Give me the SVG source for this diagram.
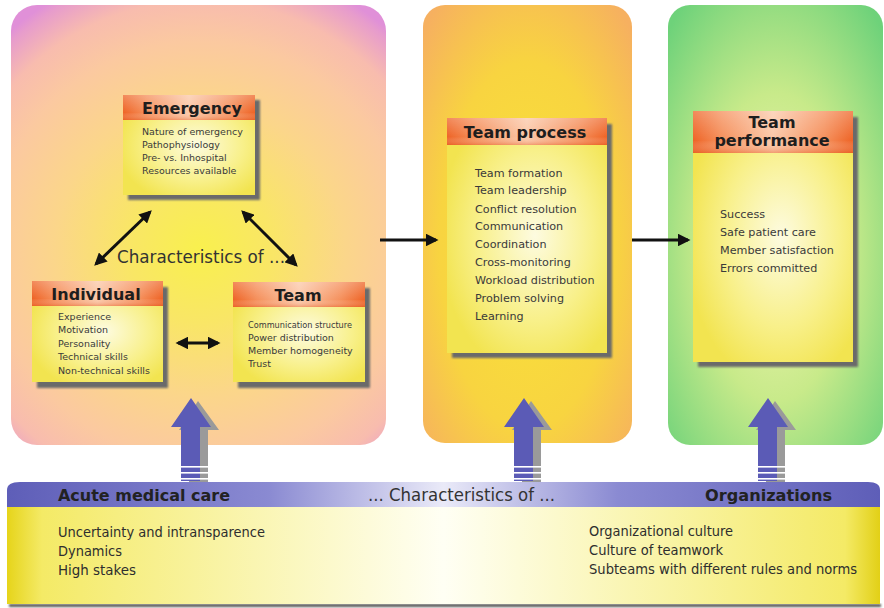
<svg xmlns="http://www.w3.org/2000/svg" width="884" height="608" viewBox="0 0 884 608">
<defs>
<style>
.hdr{font-family:"DejaVu Sans",Verdana,sans-serif;font-weight:bold;font-size:16px;fill:#1e1e1e;text-anchor:middle}
.item{font-family:"DejaVu Sans",Verdana,sans-serif;font-size:9.5px;fill:#3a3a3a}
.item2{font-family:"DejaVu Sans",Verdana,sans-serif;font-size:11.2px;fill:#3a3a3a}
.band{font-family:"DejaVu Sans Condensed","DejaVu Sans",sans-serif;font-size:14px;fill:#2e2e2e}
.bandh{font-family:"DejaVu Sans",Verdana,sans-serif;font-weight:bold;font-size:16px;fill:#222}
.char{font-family:"DejaVu Sans Condensed","DejaVu Sans",sans-serif;font-size:17px;fill:#333}
.conn{stroke:#111;stroke-width:3;fill:none}
.shadow{fill:#6a6a6a;filter:url(#blur)}
</style>
<filter id="blur" x="-10%" y="-10%" width="120%" height="120%"><feGaussianBlur stdDeviation="1.2"/></filter>
<radialGradient id="gLeft" gradientUnits="userSpaceOnUse" cx="200" cy="250" r="290">
<stop offset="0" stop-color="#f9f04e"/>
<stop offset="0.25" stop-color="#f9e666"/>
<stop offset="0.5" stop-color="#fbd68a"/>
<stop offset="0.72" stop-color="#fbc9a0"/>
<stop offset="0.86" stop-color="#f8bcae"/>
<stop offset="0.97" stop-color="#e79ccc"/>
<stop offset="1" stop-color="#e090d8"/>
</radialGradient>
<radialGradient id="gMid" cx="0.5" cy="0.55" r="0.7">
<stop offset="0" stop-color="#f9e23a"/>
<stop offset="0.6" stop-color="#f8d440"/>
<stop offset="1" stop-color="#f6b060"/>
</radialGradient>
<radialGradient id="gRight" cx="0.5" cy="0.55" r="0.7">
<stop offset="0" stop-color="#f2f4b4"/>
<stop offset="0.5" stop-color="#c8ea8a"/>
<stop offset="1" stop-color="#6ed27a"/>
</radialGradient>
<linearGradient id="gHead" x1="0" y1="0" x2="1" y2="0">
<stop offset="0" stop-color="#ee6426"/>
<stop offset="0.18" stop-color="#f5905c"/>
<stop offset="0.5" stop-color="#fbc8a8"/>
<stop offset="0.82" stop-color="#f5905c"/>
<stop offset="1" stop-color="#ee6426"/>
</linearGradient>
<linearGradient id="gHeadV" x1="0" y1="0" x2="0" y2="1">
<stop offset="0" stop-color="#ffffff" stop-opacity="0.25"/>
<stop offset="0.7" stop-color="#ffffff" stop-opacity="0"/>
<stop offset="1" stop-color="#e45a20" stop-opacity="0.4"/>
</linearGradient>
<radialGradient id="gBody" cx="0.55" cy="0.5" r="0.6">
<stop offset="0" stop-color="#fdfbe0"/>
<stop offset="0.6" stop-color="#f8f08a"/>
<stop offset="1" stop-color="#f2e450"/>
</radialGradient>
<linearGradient id="gBandTop" x1="0" y1="0" x2="1" y2="0">
<stop offset="0" stop-color="#5e5eb8"/>
<stop offset="0.3" stop-color="#8a8ad2"/>
<stop offset="0.5" stop-color="#eaeaf8"/>
<stop offset="0.7" stop-color="#8a8ad2"/>
<stop offset="1" stop-color="#5e5eb8"/>
</linearGradient>
<linearGradient id="gBandBody" x1="0" y1="0" x2="1" y2="0">
<stop offset="0" stop-color="#e6d41a"/>
<stop offset="0.04" stop-color="#f4ea66"/>
<stop offset="0.5" stop-color="#fffff4"/>
<stop offset="0.96" stop-color="#f4ea66"/>
<stop offset="1" stop-color="#e2d016"/>
</linearGradient>
<marker id="ah" viewBox="0 0 10 10" refX="8" refY="5" markerWidth="4.2" markerHeight="4.2" orient="auto-start-reverse" markerUnits="strokeWidth">
<path d="M0,0 L10,5 L0,10 Z" fill="#111"/>
</marker>
</defs>

<rect width="884" height="608" fill="#ffffff"/>

<g id="panel-left"><rect x="11" y="5" width="375" height="440" rx="26" fill="url(#gLeft)"/></g>
<g id="panel-middle"><rect x="423" y="5" width="209" height="438" rx="22" fill="url(#gMid)"/></g>
<g id="panel-right"><rect x="668" y="5" width="215" height="440" rx="22" fill="url(#gRight)"/></g>

<text class="char" x="117" y="263" textLength="168" lengthAdjust="spacingAndGlyphs">Characteristics of ...</text>

<g id="connectors">
<line class="conn" x1="150" y1="212" x2="96" y2="264" marker-start="url(#ah)" marker-end="url(#ah)"/>
<line class="conn" x1="243" y1="212" x2="296" y2="265" marker-start="url(#ah)" marker-end="url(#ah)"/>
<line class="conn" x1="178" y1="343" x2="218" y2="343" marker-start="url(#ah)" marker-end="url(#ah)"/>
<line class="conn" x1="380" y1="240" x2="436" y2="240" marker-end="url(#ah)"/>
<line class="conn" x1="632" y1="240" x2="688" y2="240" marker-end="url(#ah)"/>
</g>

<g id="node-emergency">
<rect class="shadow" x="128" y="100" width="132" height="100"/>
<rect x="123" y="95" width="132" height="100" fill="url(#gBody)"/>
<rect x="123" y="95" width="132" height="25" fill="url(#gHead)"/>
<rect x="123" y="95" width="132" height="25" fill="url(#gHeadV)"/>
<text class="hdr" x="192" y="114">Emergency</text>
<text class="item" x="142" y="135">Nature of emergency</text>
<text class="item" x="142" y="148">Pathophysiology</text>
<text class="item" x="142" y="161">Pre- vs. Inhospital</text>
<text class="item" x="142" y="174">Resources available</text>
</g>

<g id="node-individual">
<rect class="shadow" x="37" y="287" width="131" height="101"/>
<rect x="32" y="281" width="131" height="101" fill="url(#gBody)"/>
<rect x="32" y="281" width="131" height="25" fill="url(#gHead)"/>
<rect x="32" y="281" width="131" height="25" fill="url(#gHeadV)"/>
<text class="hdr" x="96" y="300">Individual</text>
<text class="item" x="58" y="320">Experience</text>
<text class="item" x="58" y="333">Motivation</text>
<text class="item" x="58" y="347">Personality</text>
<text class="item" x="58" y="360">Technical skills</text>
<text class="item" x="58" y="374">Non-technical skills</text>
</g>

<g id="node-team">
<rect class="shadow" x="238" y="288" width="132" height="100"/>
<rect x="233" y="282" width="132" height="100" fill="url(#gBody)"/>
<rect x="233" y="282" width="132" height="25" fill="url(#gHead)"/>
<rect x="233" y="282" width="132" height="25" fill="url(#gHeadV)"/>
<text class="hdr" x="298" y="301">Team</text>
<text class="item" x="248" y="328" font-size="8" textLength="104" lengthAdjust="spacingAndGlyphs">Communication structure</text>
<text class="item" x="248" y="341">Power distribution</text>
<text class="item" x="248" y="354">Member homogeneity</text>
<text class="item" x="248" y="367">Trust</text>
</g>

<g id="node-team-process">
<rect class="shadow" x="452" y="124" width="160" height="234"/>
<rect x="447" y="118" width="160" height="235" fill="url(#gBody)"/>
<rect x="447" y="118" width="160" height="27" fill="url(#gHead)"/>
<rect x="447" y="118" width="160" height="27" fill="url(#gHeadV)"/>
<text class="hdr" x="525" y="138">Team process</text>
<text class="item2" x="475" y="177">Team formation</text>
<text class="item2" x="475" y="194">Team leadership</text>
<text class="item2" x="475" y="213">Conflict resolution</text>
<text class="item2" x="475" y="230">Communication</text>
<text class="item2" x="475" y="248">Coordination</text>
<text class="item2" x="475" y="266">Cross-monitoring</text>
<text class="item2" x="475" y="284">Workload distribution</text>
<text class="item2" x="475" y="302">Problem solving</text>
<text class="item2" x="475" y="320">Learning</text>
</g>

<g id="node-team-performance">
<rect class="shadow" x="698" y="117" width="160" height="250"/>
<rect x="693" y="111" width="160" height="251" fill="url(#gBody)"/>
<rect x="693" y="111" width="160" height="42" fill="url(#gHead)"/>
<rect x="693" y="111" width="160" height="42" fill="url(#gHeadV)"/>
<text class="hdr" x="772" y="128">Team</text>
<text class="hdr" x="772" y="146">performance</text>
<text class="item2" x="720" y="218">Success</text>
<text class="item2" x="720" y="236">Safe patient care</text>
<text class="item2" x="720" y="254">Member satisfaction</text>
<text class="item2" x="720" y="272">Errors committed</text>
</g>

<g id="blue-arrows">
<g>
<path d="M198,401 L219,430 L208,430 L208,482 L189,482 L189,430 L179,430 Z" fill="#9a9a9a"/>
<path d="M191,398 L211,427 L200,427 L200,481 L181,481 L181,427 L171,427 Z" fill="#5b5bb6"/>
</g>
<g transform="translate(333,0)">
<path d="M198,401 L219,430 L208,430 L208,482 L189,482 L189,430 L179,430 Z" fill="#9a9a9a"/>
<path d="M191,398 L211,427 L200,427 L200,481 L181,481 L181,427 L171,427 Z" fill="#5b5bb6"/>
</g>
<g transform="translate(577,0)">
<path d="M198,401 L219,430 L208,430 L208,482 L189,482 L189,430 L179,430 Z" fill="#9a9a9a"/>
<path d="M191,398 L211,427 L200,427 L200,481 L181,481 L181,427 L171,427 Z" fill="#5b5bb6"/>
</g>
<g fill="#ffffff">
<rect x="179" y="466" width="31" height="1.6"/><rect x="179" y="472" width="31" height="1.6"/><rect x="179" y="478" width="31" height="1.6"/>
<rect x="512" y="466" width="31" height="1.6"/><rect x="512" y="472" width="31" height="1.6"/><rect x="512" y="478" width="31" height="1.6"/>
<rect x="756" y="466" width="31" height="1.6"/><rect x="756" y="472" width="31" height="1.6"/><rect x="756" y="478" width="31" height="1.6"/>
</g>
</g>

<g id="bottom-band">
<rect x="9" y="604" width="872" height="3" fill="#555" filter="url(#blur)"/>
<rect x="7" y="507" width="873" height="97" fill="url(#gBandBody)"/>
<path d="M7,507 L7,490 Q7,482 20,482 L868,482 Q880,482 880,490 L880,507 Z" fill="url(#gBandTop)"/>
<text class="bandh" x="58" y="501" textLength="172" lengthAdjust="spacingAndGlyphs">Acute medical care</text>
<text class="char" x="368" y="501" font-size="16" textLength="187" lengthAdjust="spacingAndGlyphs">... Characteristics of ...</text>
<text class="bandh" x="705" y="501" textLength="127" lengthAdjust="spacingAndGlyphs">Organizations</text>
<text class="band" x="58" y="537" textLength="207" lengthAdjust="spacingAndGlyphs">Uncertainty and intransparence</text>
<text class="band" x="58" y="556" textLength="64" lengthAdjust="spacingAndGlyphs">Dynamics</text>
<text class="band" x="58" y="575" textLength="78" lengthAdjust="spacingAndGlyphs">High stakes</text>
<text class="band" x="589" y="536" textLength="144" lengthAdjust="spacingAndGlyphs">Organizational culture</text>
<text class="band" x="589" y="555" textLength="134" lengthAdjust="spacingAndGlyphs">Culture of teamwork</text>
<text class="band" x="589" y="574" textLength="268" lengthAdjust="spacingAndGlyphs">Subteams with different rules and norms</text>
</g>
</svg>
